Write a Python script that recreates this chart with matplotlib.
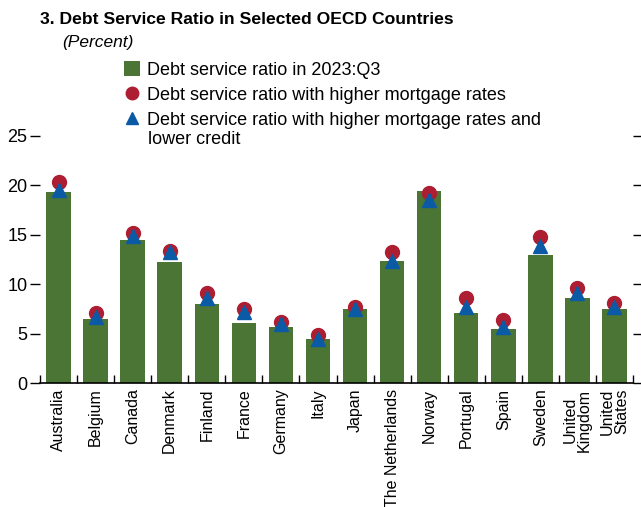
import matplotlib
matplotlib.use("Agg")
import matplotlib.pyplot as plt
import numpy as np
from matplotlib.lines import Line2D
from matplotlib.patches import Patch

plt.rcParams['font.family'] = ['Liberation Sans Narrow', 'Liberation Sans', 'DejaVu Sans']

countries = ["Australia", "Belgium", "Canada", "Denmark", "Finland", "France", "Germany",
             "Italy", "Japan", "The Netherlands", "Norway", "Portugal", "Spain", "Sweden",
             "United\nKingdom", "United\nStates"]
dsr_2023q3 = [19.3, 6.5, 14.5, 12.2, 8.0, 6.1, 5.7, 4.5, 7.5, 12.3, 19.4, 7.1, 5.5, 13.0, 8.6, 7.5]
dsr_higher_rates = [20.3, 7.05, 15.15, 13.4, 9.1, 7.5, 6.2, 4.9, 7.7, 13.25, 19.2, 8.65, 6.4, 14.8, 9.6, 8.1]
dsr_higher_rates_lower_credit = [19.5, 6.7, 14.9, 13.3, 8.6, 7.2, 5.95, 4.5, 7.5, 12.3, 18.5, 7.65, 5.7, 13.9, 9.15, 7.7]
yticks = [0, 5, 10, 15, 20, 25]

green = "#4a7535"
red = "#ad1e32"
blue = "#0b5aa6"

fig = plt.figure(figsize=(6.41, 5.07), dpi=100)
ax = fig.add_axes([40/641, 124/507, 593/641, (383-136)/507])

x = np.arange(len(countries))
ax.bar(x, dsr_2023q3, width=0.66, color=green, zorder=2)
ax.plot(x, dsr_higher_rates, 'o', color=red, markersize=10, zorder=3, linestyle='none')
ax.plot(x, dsr_higher_rates_lower_credit, '^', color=blue, markersize=10, zorder=4, linestyle='none')

ax.set_xlim(-0.5, len(countries) - 0.5)
ax.set_ylim(0, 25)
for s in ['top', 'left', 'right']:
    ax.spines[s].set_visible(False)
ax.spines['bottom'].set_linewidth(1.2)

ax.set_yticks(yticks)
ax.set_yticklabels([str(v) for v in yticks], fontsize=13)
ax.tick_params(axis='y', which='both', direction='out', length=7, width=1,
               left=True, right=True, labelleft=True, pad=2)

ax.set_xticks(x)
ax.set_xticklabels(countries, rotation=90, fontsize=11.5, va='top', ha='center', linespacing=0.9)
ax.tick_params(axis='x', which='major', length=0, pad=4)
ax.set_xticks(np.arange(-0.5, len(countries), 1), minor=True)
ax.tick_params(axis='x', which='minor', direction='in', length=6, width=1)

fig.text(40/641, 488/507, "3. Debt Service Ratio in Selected OECD Countries",
         fontsize=12.6, fontweight='bold', ha='left', va='center')
fig.text(62/641, 465/507, "(Percent)", fontsize=12.5, style='italic', ha='left', va='center')

handles = [Patch(facecolor=green, edgecolor='none'),
           Line2D([], [], marker='o', color=red, linestyle='none', markersize=9),
           Line2D([], [], marker='^', color=blue, linestyle='none', markersize=9)]
labels = ["Debt service ratio in 2023:Q3",
          "Debt service ratio with higher mortgage rates",
          "Debt service ratio with higher mortgage rates and"]
leg = fig.legend(handles, labels, loc='upper left', bbox_to_anchor=(124/641, 446/507),
                 frameon=False, fontsize=13, handlelength=0.9, handletextpad=0.35,
                 labelspacing=0.4, borderpad=0, borderaxespad=0, handleheight=0.9)
fig.text(148/641, (507-140)/507, "lower credit", fontsize=13, ha='left', va='center')

fig.savefig("out.png", dpi=100)
